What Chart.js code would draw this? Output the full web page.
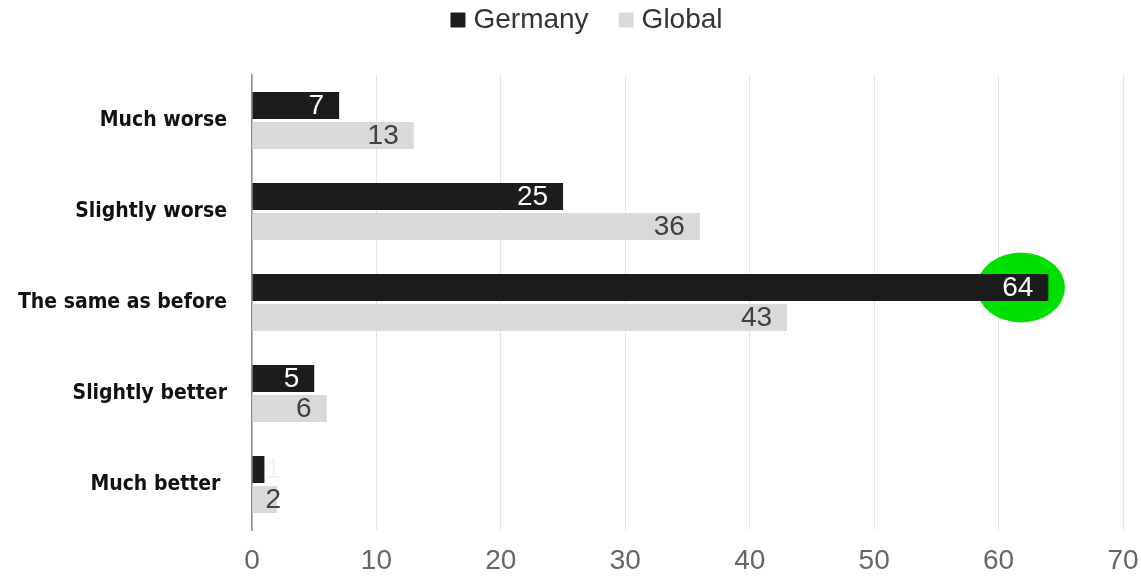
<!DOCTYPE html>
<html>
<head>
<meta charset="utf-8">
<script src="https://cdn.jsdelivr.net/npm/chart.js@4"></script>
<style>
  html, body { margin: 0; padding: 0; background: #fff; }
  #wrap { width: 1141px; height: 578px; }
</style>
</head>
<body>
<div id="wrap"><canvas id="c"></canvas></div>
<script>
const categories = ['Much worse', 'Slightly worse', 'The same as before', 'Slightly better', 'Much better '];
const germany = [7, 25, 64, 5, 1];
const global = [13, 36, 43, 6, 2];
const xTicks = [0, 10, 20, 30, 40, 50, 60, 70];

const SANS = '"Liberation Sans", Arial, sans-serif';

// green highlight around the 64
const highlight = { category: 2, value: 61.8, rx: 44, ry: 35, color: '#00e000' };

const highlightPlugin = {
    id: 'highlight',
    beforeDatasetsDraw(chart) {
        const ctx = chart.ctx;
        const bar = chart.getDatasetMeta(0).data[highlight.category];
        const x = chart.scales.x.getPixelForValue(highlight.value);
        ctx.save();
        ctx.fillStyle = highlight.color;
        ctx.beginPath();
        ctx.ellipse(x, bar.y, highlight.rx, highlight.ry, 0, 0, Math.PI * 2);
        ctx.fill();
        ctx.restore();
    }
};

const labelPlugin = {
    id: 'barLabels',
    afterDatasetsDraw(chart) {
        const ctx = chart.ctx;
        ctx.save();
        ctx.font = '28px ' + SANS;
        ctx.textBaseline = 'middle';
        chart.data.datasets.forEach((ds, i) => {
            const meta = chart.getDatasetMeta(i);
            meta.data.forEach((bar, j) => {
                const txt = String(ds.data[j]);
                const w = ctx.measureText(txt).width;
                if (bar.x - bar.base > w + 24) {
                    ctx.textAlign = 'right';
                    ctx.fillStyle = ds.labelColor;
                    ctx.fillText(txt, bar.x - 15, bar.y + 1);
                } else {
                    ctx.textAlign = 'left';
                    ctx.fillStyle = ds.outsideColor;
                    ctx.fillText(txt, bar.base + 13, bar.y + 1);
                }
            });
        });
        ctx.restore();
    }
};

// legend drawn by hand so box/text gaps match
const legendPlugin = {
    id: 'topLegend',
    afterDraw(chart) {
        const ctx = chart.ctx;
        const box = 15, gapText = 8, gapItem = 30, cy = 20;
        ctx.save();
        ctx.font = '28px ' + SANS;
        ctx.textBaseline = 'middle';
        ctx.textAlign = 'left';
        const items = chart.data.datasets.map(ds => ({
            text: ds.label, color: ds.backgroundColor, w: ctx.measureText(ds.label).width
        }));
        let total = items.reduce((s, it) => s + box + gapText + it.w, 0) + gapItem * (items.length - 1);
        let x = (chart.width - total) / 2 + 16;
        items.forEach(it => {
            ctx.fillStyle = it.color;
            ctx.fillRect(x, cy - box / 2, box, box);
            ctx.fillStyle = '#333333';
            ctx.fillText(it.text, x + box + gapText, cy);
            x += box + gapText + it.w + gapItem;
        });
        ctx.restore();
    }
};

new Chart(document.getElementById('c'), {
    type: 'bar',
    data: {
        labels: categories,
        datasets: [{
            label: 'Germany',
            data: germany,
            backgroundColor: '#1c1c1c',
            labelColor: '#ffffff',
            outsideColor: '#f2f2f2',
            categoryPercentage: 0.66,
            barPercentage: 0.9
        }, {
            label: 'Global',
            data: global,
            backgroundColor: '#d9d9d9',
            labelColor: '#404040',
            outsideColor: '#404040',
            categoryPercentage: 0.66,
            barPercentage: 0.9
        }]
    },
    options: {
        indexAxis: 'y',
        responsive: true,
        maintainAspectRatio: false,
        animation: false,
        layout: { padding: { left: 0, right: 18, top: 75, bottom: 0 } },
        plugins: {
            legend: { display: false },
            tooltip: { enabled: false }
        },
        scales: {
            x: {
                min: 0,
                max: 70,
                afterBuildTicks(scale) {
                    scale.ticks = xTicks.map(v => ({ value: v }));
                },
                afterFit(scale) {
                    scale.height = 48;
                    scale.paddingLeft = 0;
                    scale.paddingRight = 0;
                },
                grid: { color: '#e6e6e6', lineWidth: 1, drawTicks: false },
                border: { display: false },
                ticks: {
                    color: '#666666',
                    padding: 14,
                    font: { size: 28, family: SANS }
                }
            },
            y: {
                afterFit(scale) { scale.width = 252; },
                grid: { display: false, drawTicks: false },
                border: { display: true, color: '#8c8c8c', width: 1.5 },
                ticks: {
                    color: '#111111',
                    padding: 25,
                    font: { size: 21, weight: 'bold', family: '"DejaVu Sans Condensed", "DejaVu Sans", sans-serif' }
                }
            }
        }
    },
    plugins: [highlightPlugin, labelPlugin, legendPlugin]
});
</script>
</body>
</html>
